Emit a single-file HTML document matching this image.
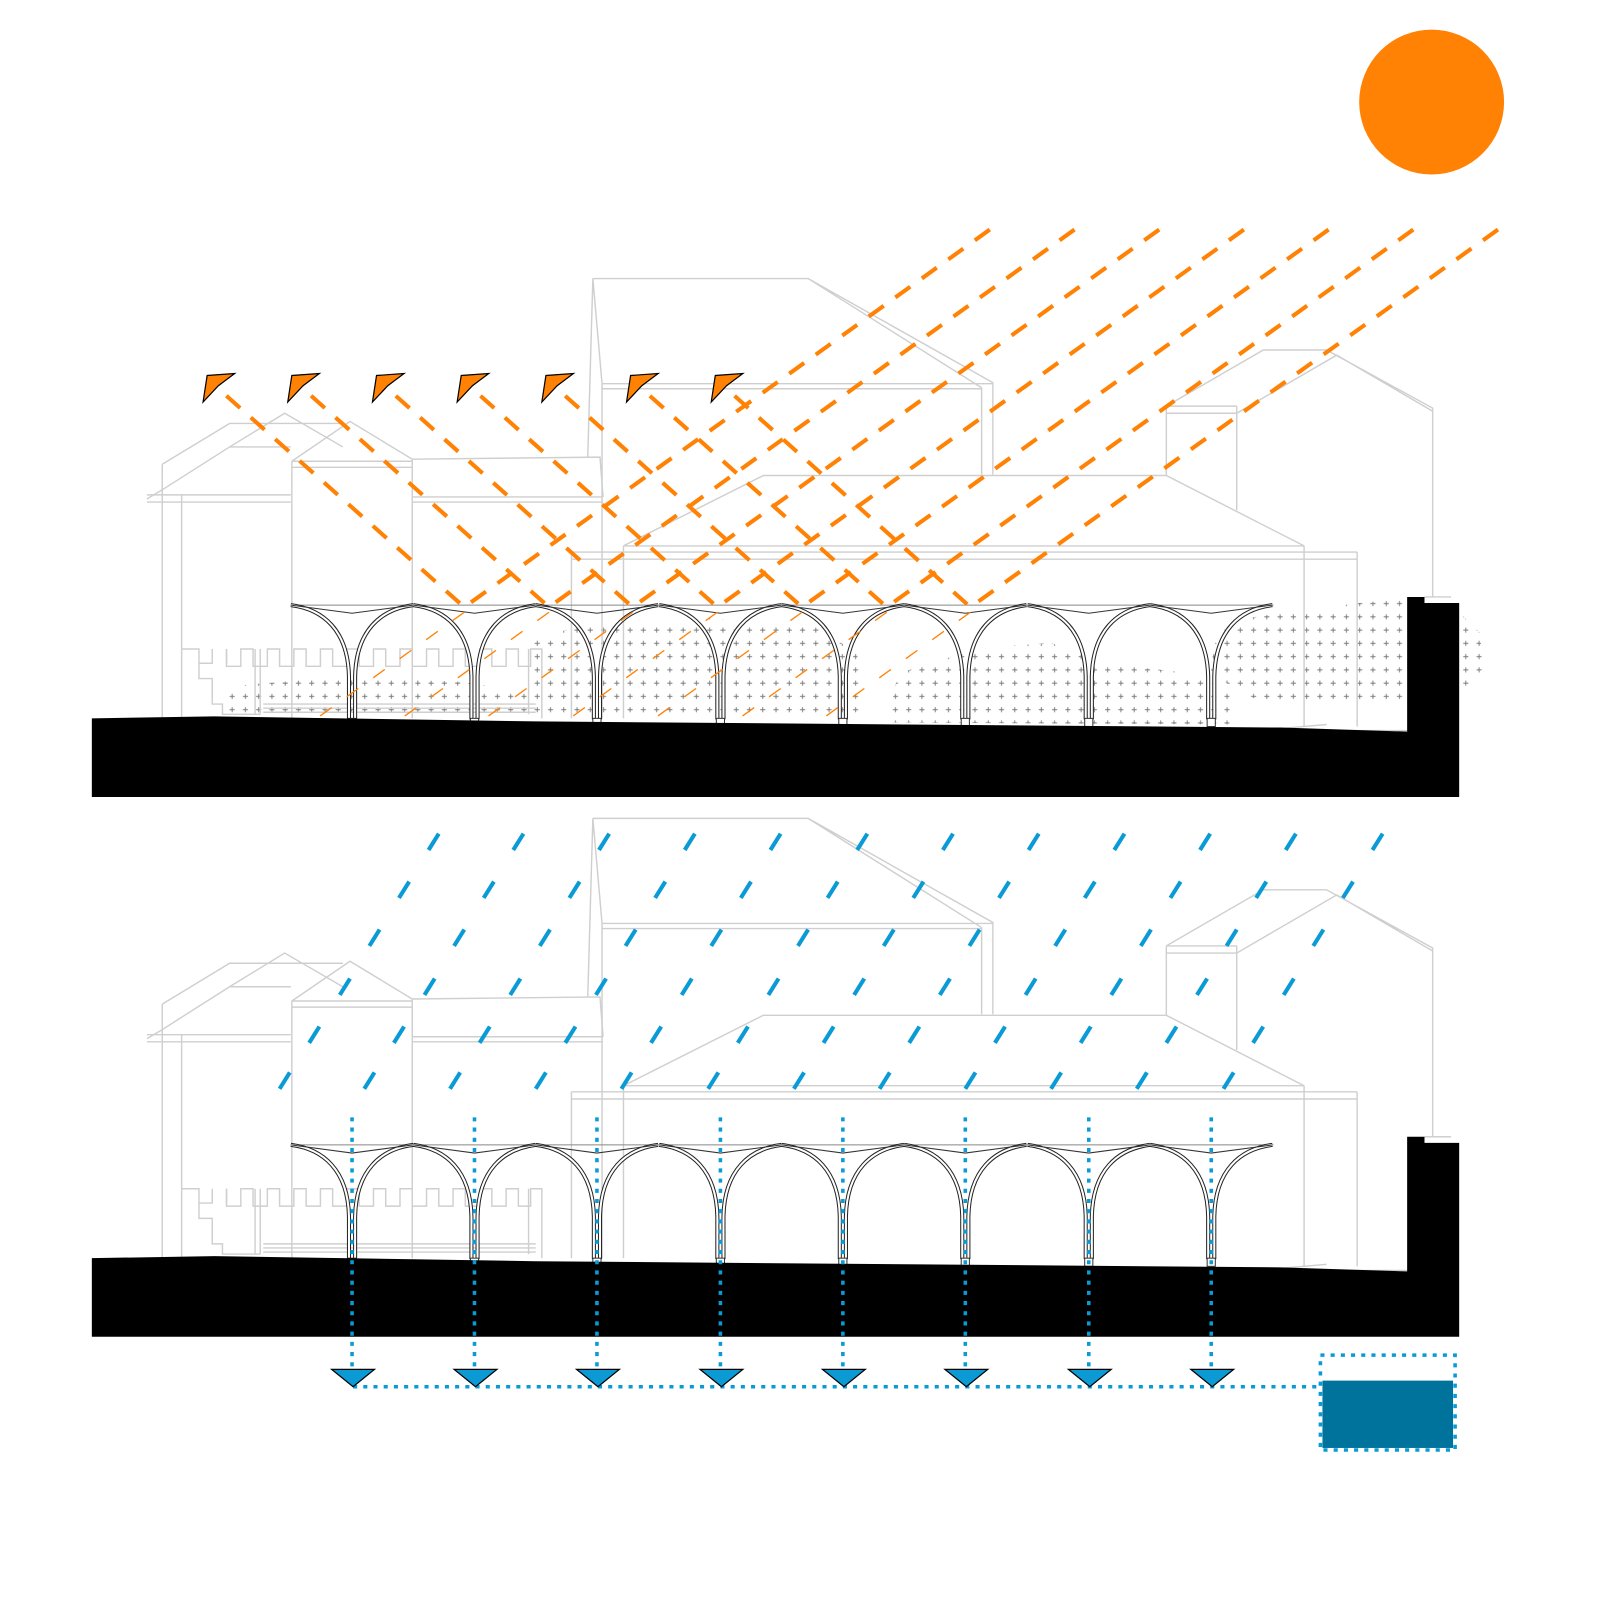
<!DOCTYPE html>
<html><head><meta charset="utf-8"><style>html,body{margin:0;padding:0;background:#fff}svg{display:block}</style></head>
<body>
<svg width="1600" height="1600" viewBox="0 0 1568 1568" xmlns="http://www.w3.org/2000/svg">
<defs>
<pattern id="st" width="13" height="13" patternUnits="userSpaceOnUse"><path d="M4,6.5h5M6.5,4v5" stroke="#777" stroke-width="0.9"/></pattern>
<g id="bld" fill="none" stroke="#cfcfcf" stroke-width="1.4">
  <path d="M144,489 L159,480 L225,438 L279,405 L336,438 M159,455 L225,415 L336,415 M225,438 L285,438"/>
  <path d="M159,455 V704 M178,485 V704 M144,485 H285 M144,492 H285"/>
  <path d="M286,452 L343,413 L404,450 M286,452 H404 M286,458 H404 M286,452 V704 M404,450 V704"/>
  <path d="M404,450 L588,448 L591,487 M404,487 H591 M404,492 H591"/>
  <path d="M581,273 L576,448 M581,273 L590,376 L590,704 M581,273 H792 L973,375 V465 M962,380 V465 M590,376 H973 M590,381 H962 M792,273 L962,380"/>
  <path d="M611,535 L748,466 H1143 L1278,535 M560,541 H1330 M560,548 H1330 M611,535 H1278 M560,541 V704 M611,535 V704 M1278,535 V712 M1330,541 V712"/>
  <path d="M1143,398 L1238,343 H1300 L1404,400 V585 M1212,405 L1310,348 L1404,403 M1143,398 H1212 M1143,405 H1212 M1143,398 V466 M1212,398 V500"/>
  <path d="M1396,585 H1422"/>
  <path d="M178,636 H195 V650 H208 V636 M222,650 V636 M195,650 V665 H208 V690 H218 V700 H255 M250,636 V700 M255,636 V700"/>
  <path d="M222,636 V653 H236 V636 H248 V653 H262 V636 H274 V653 H288 V636 H300 V653 H314 V636 H326 V653 H340 V636 H352 V653 H366 V636 H378 V653 H392 V636 H404 V653 H418 V636 H430 V653 H444 V636 H456 V653 H470 V636 H482 V653 H496 V636 H508 V653 H520 V636 H531 V704 M518,636 V700"/>
  <path d="M258,690 H525 M258,694 H525 M258,698 H525"/>
  <path d="M1255,714 L1300,710 M1255,716 H1380"/>
</g>
<g id="arch" fill="none">
  <path d="M-60,593 C-28,597 -4,618 -3,663 L-3,705 M60,593 C28,597 4,618 3,663 L3,705" stroke="#222" stroke-width="4"/>
  <path d="M-60,593 C-28,597 -4,618 -3,663 L-3,705 M60,593 C28,597 4,618 3,663 L3,705" stroke="#fff" stroke-width="2"/>
  <path d="M-60,593 L0,601 L60,593" stroke="#333" stroke-width="1"/>
  <rect x="-4" y="704" width="8" height="8" fill="#fff" stroke="#333" stroke-width="1"/>
</g>
<g id="arches">
  <path d="M285,593 H1248" stroke="#888" stroke-width="1"/>
  <use href="#arch" x="345"/><use href="#arch" x="465"/><use href="#arch" x="585"/><use href="#arch" x="706"/>
  <use href="#arch" x="826"/><use href="#arch" x="946"/><use href="#arch" x="1067"/><use href="#arch" x="1187"/>
</g>
<g id="ground">
  <path d="M90,704 L210,702 L525,707 L1255,713 L1379,717 V585 H1396 V591 H1430 V781 H90 Z" fill="#000"/>
</g>
<polygon id="ar" points="199,394 203,368 230,366 214,378" fill="#ff8205" stroke="#000" stroke-width="1.2"/>
</defs>

<circle cx="1403" cy="100" r="71" fill="#ff8205"/>

<g fill="url(#st)">
  <path d="M215,700 L230,672 L330,664 L450,668 L520,678 L520,700 Z"/>
  <path d="M520,700 L522,625 L580,612 L700,606 L800,615 L840,640 L845,700 Z"/>
  <path d="M870,708 L880,660 L960,635 L1030,630 L1080,650 L1170,660 L1205,680 L1205,710 Z"/>
  <path d="M1185,660 L1195,610 L1260,600 L1340,590 L1380,588 L1380,690 L1300,688 L1230,685 Z"/>
  <path d="M1430,600 L1450,620 L1455,660 L1430,680 Z"/>
</g>
<use href="#bld"/>
<use href="#arches"/>
<use href="#ground"/>

<g stroke="#ff8205" stroke-width="1.3" stroke-dasharray="14 18" fill="none">
  <path d="M455,600 L309,705"/><path d="M538,600 L392,705"/><path d="M620,600 L474,705"/><path d="M703,600 L557,705"/>
  <path d="M786,600 L640,705"/><path d="M869,600 L723,705"/><path d="M951,600 L805,705"/>
</g>
<g stroke="#ff8205" stroke-width="4" stroke-dasharray="18 14" fill="none">
  <path d="M970,225 L455,595 L213,380"/>
  <path d="M1053,225 L538,595 L296,380"/>
  <path d="M1136,225 L620,595 L379,380"/>
  <path d="M1219,225 L703,595 L462,380"/>
  <path d="M1302,225 L786,595 L545,380"/>
  <path d="M1385,225 L869,595 L628,380"/>
  <path d="M1468,225 L951,595 L711,380"/>
</g>
<use href="#ar"/><use href="#ar" x="83"/><use href="#ar" x="166"/><use href="#ar" x="249"/>
<use href="#ar" x="332"/><use href="#ar" x="415"/><use href="#ar" x="498"/>

<g transform="translate(0,529)">
  <use href="#bld"/>
  <use href="#arches"/>
  <use href="#ground"/>
</g>

<g stroke="#0a9bd6" stroke-width="4" id="rainrow">
  <path d="M420,833 L430,817 M503,833 L513,817 M587,833 L597,817 M671,833 L681,817 M755,833 L765,817 M840,833 L850,817 M924,833 L934,817 M1008,833 L1018,817 M1092,833 L1102,817 M1176,833 L1186,817 M1260,833 L1270,817 M1345,833 L1355,817"/>
</g>
<g stroke="#0a9bd6" stroke-width="4">
  <use href="#rainrow" transform="translate(-29,47)"/>
  <use href="#rainrow" transform="translate(-58,94)"/>
  <use href="#rainrow" transform="translate(-87,142)"/>
  <use href="#rainrow" transform="translate(-117,189)"/>
  <use href="#rainrow" transform="translate(-146,234)"/>
</g>

<g stroke="#0a9bd6" stroke-width="3.5" stroke-dasharray="4 6" fill="none">
  <path d="M345,1095 V1345"/><path d="M465,1095 V1345"/><path d="M585,1095 V1345"/><path d="M706,1095 V1345"/>
  <path d="M826,1095 V1345"/><path d="M946,1095 V1345"/><path d="M1067,1095 V1345"/><path d="M1187,1095 V1345"/>
  <path d="M346,1359 H1294"/>
  <rect x="1294" y="1328" width="132" height="93"/>
</g>
<rect x="1296" y="1353" width="128" height="66" fill="#00739c"/>
<g fill="#0b9ad3" stroke="#000" stroke-width="1.2">
  <polygon points="325,1342 367,1342 346,1359"/><polygon points="445,1342 487,1342 466,1359"/>
  <polygon points="565,1342 607,1342 586,1359"/><polygon points="686,1342 728,1342 707,1359"/>
  <polygon points="806,1342 848,1342 827,1359"/><polygon points="926,1342 968,1342 947,1359"/>
  <polygon points="1047,1342 1089,1342 1068,1359"/><polygon points="1167,1342 1209,1342 1188,1359"/>
</g>
</svg>
</body></html>
